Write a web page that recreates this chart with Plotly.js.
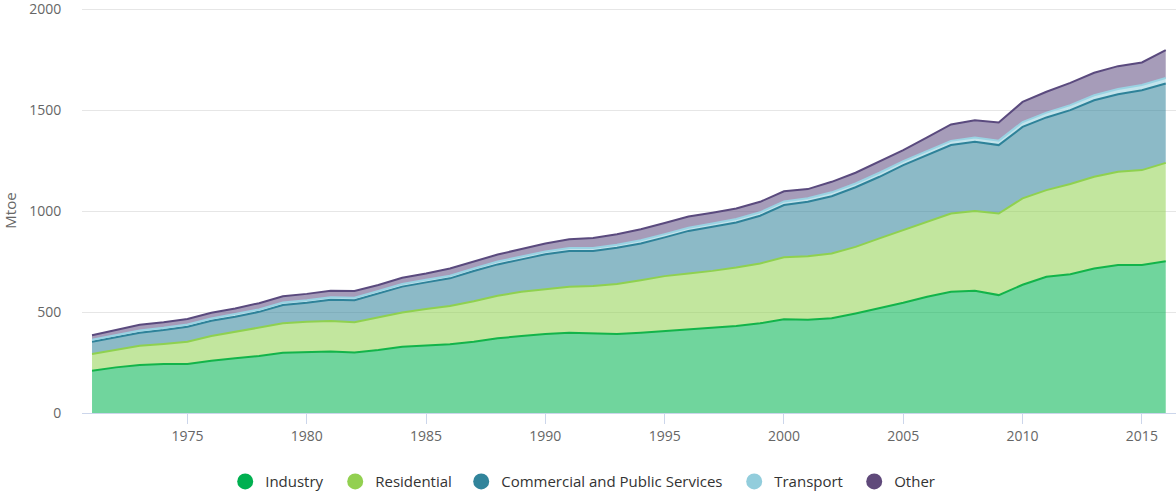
<!DOCTYPE html>
<html>
<head>
<meta charset="utf-8">
<script src="https://cdn.plot.ly/plotly-3.0.1.min.js"></script>
<style>html,body{margin:0;padding:0;background:#fff;}#chart{width:1176px;height:494px;}</style>
</head>
<body>
<div id="chart"></div>
<script>
var years = [1971,1972,1973,1974,1975,1976,1977,1978,1979,1980,1981,1982,1983,1984,1985,1986,1987,1988,1989,1990,1991,1992,1993,1994,1995,1996,1997,1998,1999,2000,2001,2002,2003,2004,2005,2006,2007,2008,2009,2010,2011,2012,2013,2014,2015,2016];
var industry = [209,226,238,243,243,259,271,282,298,303,305,300,312,328,333,340,353,370,381,391,397,394,391,398,407,416,424,431,444,464,462,469,493,518,546,576,600,605,584,635,675,687,716,733,733,752];
var residential = [83,86,95,99,110,122,132,142,146,149,151,149,160,170,182,190,201,211,219,223,228,235,248,260,271,275,280,290,297,307,315,321,330,347,360,371,388,395,404,428,429,447,454,462,470,487];
var commercial = [61,63,65,69,74,76,74,77,91,94,105,110,120,128,132,137,149,155,161,172,177,173,179,182,192,211,218,223,236,259,269,284,295,305,322,330,339,343,339,354,360,366,379,384,396,393];
var transport = [10,10,11,11,11,11,12,12,12,12,12,12,12,13,13,13,13,14,14,14,15,15,15,16,16,16,17,17,17,18,18,19,19,20,20,21,21,22,22,24,24,25,25,26,26,27];
var other = [22,25,28,28,28,29,29,31,31,32,32,33,30,31,31,36,36,35,37,40,44,50,52,54,55,55,53,52,52,50,45,52,53,54,54,67,81,85,90,100,103,110,111,113,111,138];
var seriesNames = ["Industry","Residential","Commercial and Public Services","Transport","Other"];
var yTicks = [0,500,1000,1500,2000];
var xTicks = [1975,1980,1985,1990,1995,2000,2005,2010,2015];

var seriesData = [industry, residential, commercial, transport, other];
var lineColors = ["#12b44a","#8fd14f","#2e8299","#9ad3e3","#5a4a7e"];
var fillColors = ["rgba(0,180,80,0.56)","rgba(143,209,79,0.55)","rgba(46,130,153,0.55)","rgba(146,205,220,0.55)","rgba(92,74,127,0.55)"];
var markerColors = ["#00b050","#92d050","#31849b","#92cddc","#5f497a"];
var legendWidths = [65, 81, 228, 75, 45];

var traces = [];
seriesData.forEach(function(d, i){
  traces.push({
    type:"scatter", mode:"lines", x:years, y:d, stackgroup:"one",
    name:seriesNames[i], showlegend:false, hoverinfo:"skip",
    line:{color:lineColors[i], width:2, shape:"linear"},
    fillcolor:fillColors[i]
  });
});
seriesNames.forEach(function(n, i){
  traces.push({
    type:"scatter", mode:"markers", x:[null], y:[null], name:n,
    legendwidth:legendWidths[i],
    marker:{color:markerColors[i], size:16, symbol:"circle"}, hoverinfo:"skip"
  });
});

var layout = {
  width:1176, height:494,
  margin:{l:82, r:0, t:8, b:81},
  paper_bgcolor:"#fff", plot_bgcolor:"#fff",
  font:{family:"Open Sans, sans-serif", color:"#666", size:14},
  xaxis:{
    range:[1970.58, 2016.43], tickvals:xTicks, ticktext:xTicks.map(String),
    showgrid:false, zeroline:false, showline:true, linecolor:"#ccd6eb", linewidth:1,
    ticks:"outside", ticklen:10, tickcolor:"#ccd6eb", tickwidth:1,
    tickfont:{size:14, color:"#666"}, fixedrange:true
  },
  yaxis:{
    range:[0,2006], tickvals:yTicks, ticktext:yTicks.map(String),
    showgrid:true, gridcolor:"#e6e6e6", gridwidth:1, zeroline:false, showline:false,
    ticks:"outside", ticklen:17, tickcolor:"rgba(0,0,0,0)",
    ticklabeloverflow:"allow",
    tickfont:{size:14, color:"#666"},
    title:{text:"Mtoe", font:{size:15, color:"#666"}, standoff:12}, fixedrange:true
  },
  showlegend:true,
  legend:{
    orientation:"h", xref:"container", yref:"container", x:0.1915, xanchor:"left",
    y:0.025, yanchor:"middle", font:{size:15, color:"#333"}, itemsizing:"trace",
    traceorder:"normal"
  },
  hovermode:false
};

Plotly.newPlot("chart", traces, layout, {displayModeBar:false, staticPlot:true});
</script>
</body>
</html>
